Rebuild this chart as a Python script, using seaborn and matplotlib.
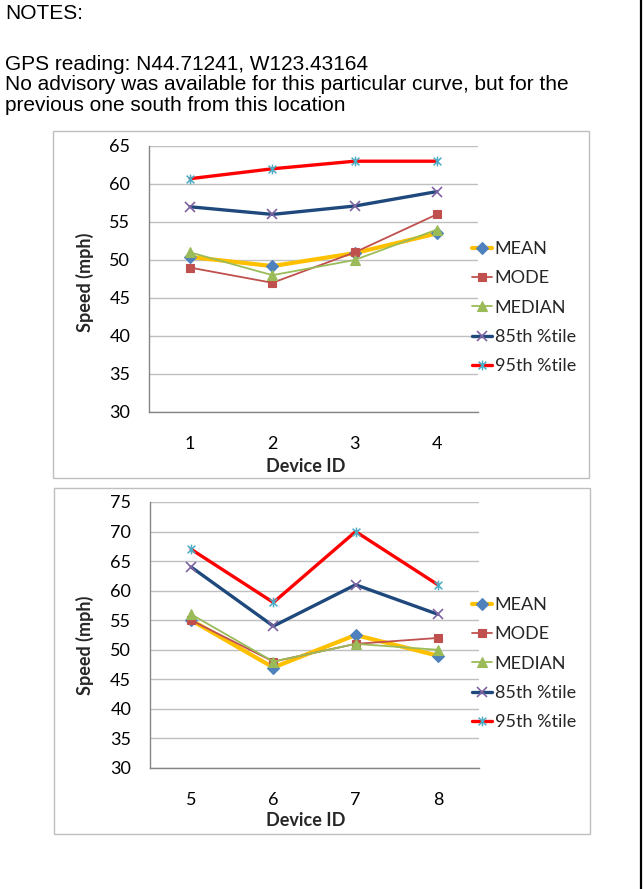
import numpy as np
import pandas as pd
import matplotlib
matplotlib.use("Agg")
import matplotlib.pyplot as plt
import seaborn as sns
from matplotlib.path import Path
from matplotlib.lines import Line2D
from matplotlib.patches import Rectangle

# ---------------- data ----------------
series_names = ["MEAN", "MODE", "MEDIAN", "85th %tile", "95th %tile"]

devices_top = [1, 2, 3, 4]
mean_top = [50.4, 49.2, 50.9, 53.5]
mode_top = [49, 47, 51, 56]
median_top = [51, 48, 50, 54]
p85_top = [57, 56, 57.1, 59]
p95_top = [60.7, 62, 63, 63]

devices_bot = [5, 6, 7, 8]
mean_bot = [55, 47, 52.5, 49]
mode_bot = [55, 48, 51, 52]
median_bot = [56, 48, 51, 50]
p85_bot = [64, 54, 61, 56]
p95_bot = [67, 58, 70, 61]

notes_lines = [
    "NOTES:",
    "",
    "GPS reading: N44.71241, W123.43164",
    "No advisory was available for this particular curve, but for the",
    "previous one south from this location",
]

# ---------------- style ----------------
sns.set_theme(style="white")
plt.rcParams["font.family"] = ["Lato", "DejaVu Sans"]

W, H = 643, 889
fig = plt.figure(figsize=(W / 100, H / 100), dpi=100)

FS = 13

star = Path([(-1, -1), (1, 1), (-1, 1), (1, -1), (0, -1.25), (0, 1.25)],
            [Path.MOVETO, Path.LINETO, Path.MOVETO, Path.LINETO, Path.MOVETO, Path.LINETO])

styles = {
    "MEAN": dict(color="#FFC000", lw=3.0, marker="D", ms=6, mfc="#4F81BD", mec="#4F81BD", mew=0.8),
    "MODE": dict(color="#C0504D", lw=1.3, marker="s", ms=6, mfc="#C0504D", mec="#C0504D", mew=0.8),
    "MEDIAN": dict(color="#9BBB59", lw=1.3, marker="^", ms=6.5, mfc="#9BBB59", mec="#9BBB59", mew=0.8),
    "85th %tile": dict(color="#1F497D", lw=2.4, marker="x", ms=7, mfc="none", mec="#8064A2", mew=1.2),
    "95th %tile": dict(color="#FF0000", lw=2.4, marker=star, ms=7, mfc="none", mec="#4BACC6", mew=1.1),
}

def px2fig_x(x):
    return x / W

def px2fig_y(y):
    return 1 - y / H

def make_panel(top_px, bottom_px, left_px, right_px, devices, vals, ylim, frame, ylab_y, xlab_y, leg_top):
    ax = fig.add_axes([px2fig_x(left_px), px2fig_y(bottom_px),
                       (right_px - left_px) / W, (bottom_px - top_px) / H])
    df = pd.DataFrame({"Device": np.repeat(devices, len(series_names)),
                       "Series": series_names * len(devices),
                       "Speed": np.array(vals).T.flatten()})
    for name in series_names:
        st = styles[name]
        sub = df[df["Series"] == name]
        sns.lineplot(data=sub, x="Device", y="Speed", ax=ax, color=st["color"], linewidth=st["lw"],
                     marker=st["marker"], markersize=st["ms"], markerfacecolor=st["mfc"],
                     markeredgecolor=st["mec"], markeredgewidth=st["mew"], legend=False)
    ax.set_xlim(devices[0] - 0.5, devices[-1] + 0.5)
    ax.set_ylim(*ylim)
    ax.set_yticks(np.arange(ylim[0], ylim[1] + 1, 5))
    ax.set_xticks(devices)
    ax.set_xticks(np.arange(devices[0] - 0.5, devices[-1] + 0.6, 1), minor=True)
    ax.tick_params(axis="x", which="major", length=0, pad=17.5, labelsize=FS, colors="#000000")
    ax.tick_params(axis="x", which="minor", length=4, width=0.9, color="#868686", direction="out")
    ax.tick_params(axis="y", which="major", length=5, width=0.9, color="#868686", direction="out",
                   pad=8.5, labelsize=FS, labelcolor="#000000")
    ax.yaxis.grid(True, color="#BFBFBF", linewidth=1.0)
    ax.xaxis.grid(False)
    for s in ["top", "right"]:
        ax.spines[s].set_visible(False)
    for s in ["left", "bottom"]:
        ax.spines[s].set_color("#868686")
        ax.spines[s].set_linewidth(1.0)
    ax.set_xlabel("")
    ax.set_ylabel("")
    fig.text(px2fig_x(85), px2fig_y(ylab_y), "Speed (mph)", rotation=90, ha="center", va="center",
             fontsize=FS, fontweight="bold")
    fig.text(px2fig_x(306), px2fig_y(xlab_y), "Device ID", ha="center", va="center",
             fontsize=FS, fontweight="bold")
    # frame
    fx0, fy0, fx1, fy1 = frame
    fig.patches.append(Rectangle((px2fig_x(fx0), px2fig_y(fy1)), (fx1 - fx0) / W, (fy1 - fy0) / H,
                                 transform=fig.transFigure, fill=False, edgecolor="#BFBFBF",
                                 linewidth=1.0, zorder=0))
    # legend
    handles = []
    for name in series_names:
        st = styles[name]
        handles.append(Line2D([0], [0], color=st["color"], lw=st["lw"], marker=st["marker"],
                              ms=st["ms"], mfc=st["mfc"], mec=st["mec"], mew=st["mew"]))
    fig.legend(handles, series_names, loc="upper left",
               bbox_to_anchor=(px2fig_x(472), px2fig_y(leg_top)), frameon=False,
               handlelength=1.1, handletextpad=0.15, labelspacing=0.74, fontsize=FS,
               borderaxespad=0, borderpad=0)
    return ax

make_panel(146, 412, 149, 478, devices_top,
           [mean_top, mode_top, median_top, p85_top, p95_top],
           (30, 65), (53, 131, 589, 478), 282, 466, 241)
make_panel(502, 768, 150, 479, devices_bot,
           [mean_bot, mode_bot, median_bot, p85_bot, p95_bot],
           (30, 75), (54, 488, 590, 834), 645, 821, 597)

# notes text
baselines = [19, None, 70, 90, 111]
for line, b in zip(notes_lines, baselines):
    if b is None:
        continue
    fig.text(px2fig_x(5), px2fig_y(b), line, ha="left", va="baseline",
             fontsize=15, family=["Liberation Sans", "DejaVu Sans"], color="#000000")

# page border on the right
fig.add_artist(Line2D([px2fig_x(640.5), px2fig_x(640.5)], [0, 1], transform=fig.transFigure,
                      color="#000000", linewidth=1.6))

fig.savefig("out.png", dpi=100)
